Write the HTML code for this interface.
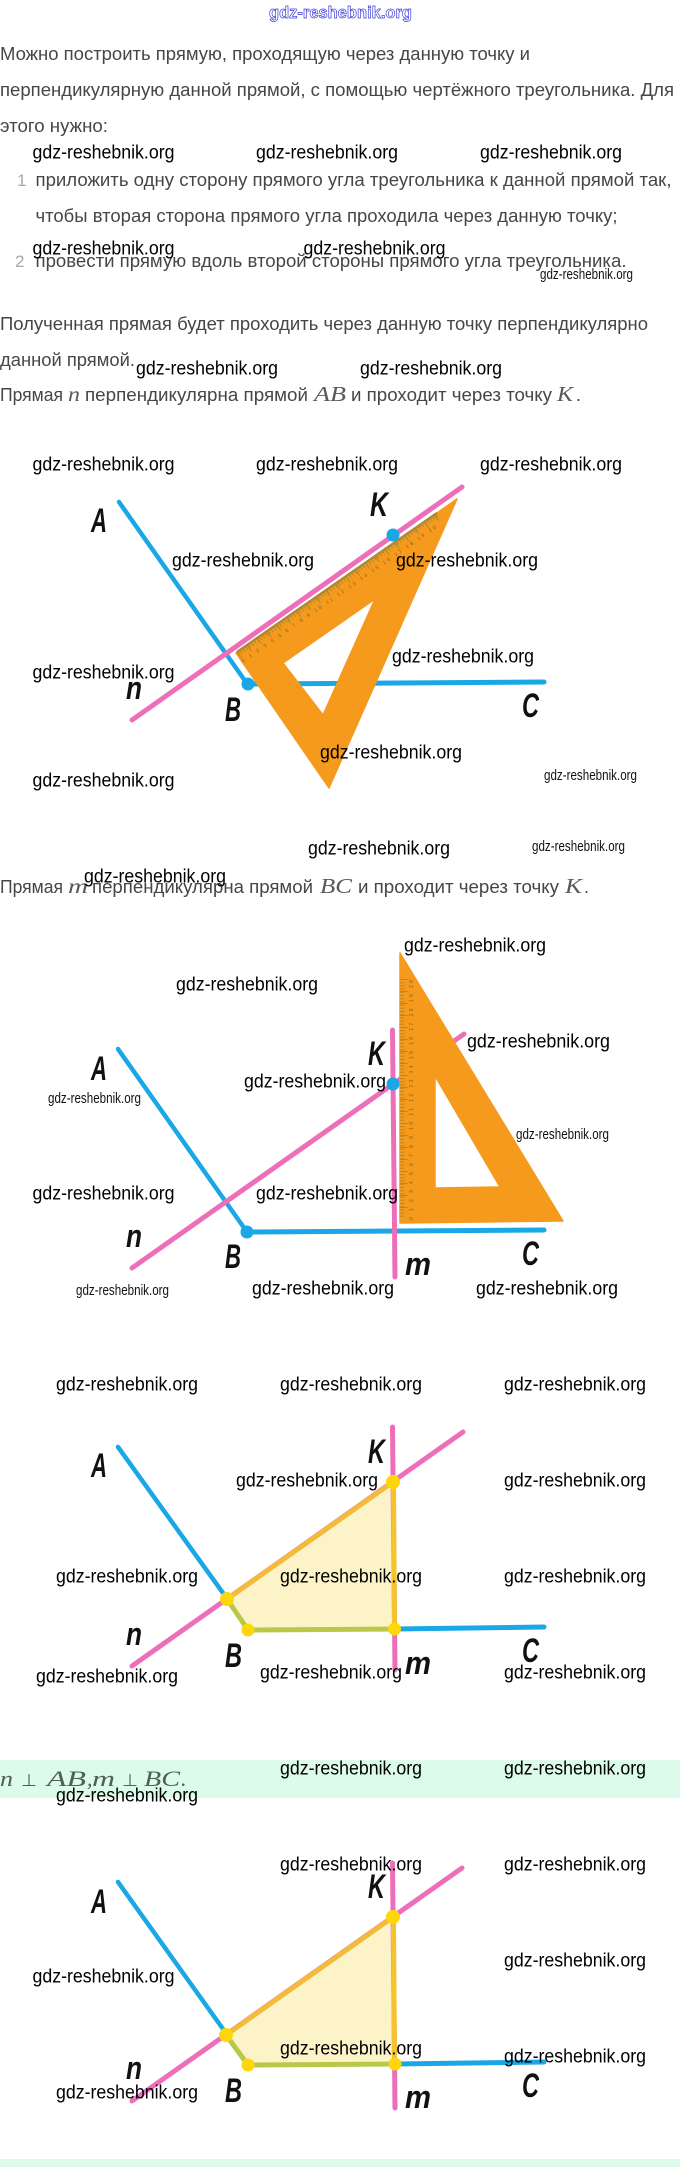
<!DOCTYPE html>
<html lang="ru">
<head>
<meta charset="utf-8">
<title>gdz-reshebnik.org</title>
<style>
html,body{margin:0;padding:0;background:#fff;width:680px;height:2167px;overflow:hidden}
svg{display:block}
.t{font-family:"Liberation Sans",sans-serif;font-size:18px;fill:#464646}
.num{font-family:"Liberation Sans",sans-serif;font-size:17px;fill:#a8a8a8}
.mi{font-family:"Liberation Serif",serif;font-style:italic;font-size:21px;fill:#5a5a5a}
.mb{font-family:"Liberation Serif",serif;font-style:italic;font-size:22px;fill:#4f6056}
.mp{font-family:"DejaVu Sans",sans-serif;font-size:17px;fill:#4f6056}
.w{font-family:"Liberation Sans",sans-serif;font-size:19px;fill:#000;transform:translateY(1.5px)}
.s{font-family:"Liberation Sans",sans-serif;font-size:15px;fill:#111}
.h{font-family:"Liberation Sans",sans-serif;font-weight:bold;font-size:17px;fill:#fff;stroke:#3a3ad8;stroke-width:.7}
.l{font-family:"Liberation Sans",sans-serif;font-style:italic;font-weight:bold;font-size:34px;fill:#111}
.lc{font-family:"Liberation Sans",sans-serif;font-style:italic;font-weight:bold;font-size:32px;fill:#111}
.r{font-family:"Liberation Sans",sans-serif;font-size:5px;fill:#85621a}
.blue{stroke:#1aa7e6;fill:none;stroke-linecap:round}
.pink{stroke:#ee6fb9;fill:none;stroke-linecap:round}
</style>
</head>
<body>
<svg xmlns="http://www.w3.org/2000/svg" width="680" height="2167" viewBox="0 0 680 2167">
<rect width="680" height="2167" fill="#fff"/>
<rect x="0" y="1760" width="680" height="38" fill="#dcfbe9"/>
<rect x="0" y="2159" width="680" height="8" fill="#dcfbe9"/>

<!-- top text -->
<text class="h" x="269" y="18" textLength="143" lengthAdjust="spacingAndGlyphs">gdz-reshebnik.org</text>
<text class="t" x="0" y="60" textLength="530" lengthAdjust="spacingAndGlyphs">Можно построить прямую, проходящую через данную точку и</text>
<text class="t" x="0" y="96" textLength="674" lengthAdjust="spacingAndGlyphs">перпендикулярную данной прямой, с помощью чертёжного треугольника. Для</text>
<text class="t" x="0" y="132" textLength="108" lengthAdjust="spacingAndGlyphs">этого нужно:</text>
<text class="num" x="17" y="186">1</text>
<text class="t" x="35.5" y="186" textLength="636" lengthAdjust="spacingAndGlyphs">приложить одну сторону прямого угла треугольника к данной прямой так,</text>
<text class="t" x="35.5" y="222" textLength="582" lengthAdjust="spacingAndGlyphs">чтобы вторая сторона прямого угла проходила через данную точку;</text>
<text class="num" x="15" y="267">2</text>
<text class="t" x="35.5" y="267" textLength="591" lengthAdjust="spacingAndGlyphs">провести прямую вдоль второй стороны прямого угла треугольника.</text>
<text class="t" x="0" y="330" textLength="648" lengthAdjust="spacingAndGlyphs">Полученная прямая будет проходить через данную точку перпендикулярно</text>
<text class="t" x="0" y="366" textLength="135" lengthAdjust="spacingAndGlyphs">данной прямой.</text>

<text class="t" x="0" y="401" textLength="63" lengthAdjust="spacingAndGlyphs">Прямая</text>
<text class="mi" x="68" y="401" textLength="12" lengthAdjust="spacingAndGlyphs">n</text>
<text class="t" x="85" y="401" textLength="223" lengthAdjust="spacingAndGlyphs">перпендикулярна прямой</text>
<text class="mi" x="314" y="401" textLength="32" lengthAdjust="spacingAndGlyphs">AB</text>
<text class="t" x="351" y="401" textLength="201" lengthAdjust="spacingAndGlyphs">и проходит через точку</text>
<text class="mi" x="557" y="401" textLength="16" lengthAdjust="spacingAndGlyphs">K</text>
<text class="t" x="576" y="401">.</text>

<!-- diagram 1 -->
<line class="blue" stroke-width="4.5" x1="119" y1="502" x2="248" y2="685"/>
<line class="blue" stroke-width="5" x1="248" y1="684" x2="544" y2="682"/>
<circle cx="248" cy="684" r="6.5" fill="#1aa7e6"/>
<path d="M236 653 L457 499 L329 788 Z M283 663 L323 715 L375 599 Z" fill="#f59a1c" fill-rule="evenodd" stroke="#f59a1c" stroke-width="1.5" stroke-linejoin="round"/>
<line x1="237" y1="652" x2="437" y2="513" stroke="#ad8a33" stroke-width="2.5"/>
<line x1="238" y1="654" x2="437" y2="515" stroke="#b08a30" stroke-width="4.5" stroke-dasharray="1 2.4"/>
<line x1="239" y1="655" x2="438" y2="516" stroke="#a98a30" stroke-width="8" stroke-dasharray="1 11"/>
<text class="r" transform="translate(243,663) rotate(-34.9)" textLength="236" lengthAdjust="spacing">0 1 2 3 4 5 6 7 8 9 10 11 12 13 14 15 16 17 18 19 20</text>
<line class="pink" stroke-width="5" x1="132" y1="720" x2="462" y2="487"/>
<circle cx="393" cy="535" r="6.5" fill="#1aa7e6"/>
<text class="l" x="91" y="532" textLength="16" lengthAdjust="spacingAndGlyphs">A</text>
<text class="l" x="370" y="516" textLength="18" lengthAdjust="spacingAndGlyphs">K</text>
<text class="lc" x="126" y="699" textLength="16" lengthAdjust="spacingAndGlyphs">n</text>
<text class="l" x="225" y="721" textLength="16" lengthAdjust="spacingAndGlyphs">B</text>
<text class="l" x="522" y="717" textLength="17" lengthAdjust="spacingAndGlyphs">C</text>

<text class="t" x="0" y="893" textLength="63" lengthAdjust="spacingAndGlyphs">Прямая</text>
<text class="mi" x="68" y="893" textLength="20" lengthAdjust="spacingAndGlyphs">m</text>
<text class="t" x="92" y="893" textLength="221" lengthAdjust="spacingAndGlyphs">перпендикулярна прямой</text>
<text class="mi" x="320" y="893" textLength="32" lengthAdjust="spacingAndGlyphs">BC</text>
<text class="t" x="358" y="893" textLength="201" lengthAdjust="spacingAndGlyphs">и проходит через точку</text>
<text class="mi" x="565" y="893" textLength="17" lengthAdjust="spacingAndGlyphs">K</text>
<text class="t" x="584" y="893">.</text>

<!-- diagram 2 -->
<line class="blue" stroke-width="4.5" x1="118" y1="1049" x2="247" y2="1232"/>
<line class="blue" stroke-width="5" x1="247" y1="1232" x2="544" y2="1230"/>
<line class="pink" stroke-width="5" x1="132" y1="1268" x2="464" y2="1034"/>
<path d="M400 1223 L400 953 L563 1221 Z M435 1076 L435 1188 L500 1187 Z" fill="#f59a1c" fill-rule="evenodd" stroke="#f59a1c" stroke-width="1.5" stroke-linejoin="round"/>
<line x1="402" y1="979" x2="402" y2="1218" stroke="#b08a30" stroke-width="4.5" stroke-dasharray="1 2.2"/>
<line x1="403.5" y1="979" x2="403.5" y2="1218" stroke="#a98a30" stroke-width="8" stroke-dasharray="1 11"/>
<text class="r" transform="translate(413,1220) rotate(-90)" textLength="240" lengthAdjust="spacing">0 1 2 3 4 5 6 7 8 9 10 11 12 13 14 15 16 17 18 19 20</text>
<line class="pink" stroke-width="5" x1="392.5" y1="1030" x2="395" y2="1277"/>
<circle cx="393" cy="1084" r="6.5" fill="#1aa7e6"/>
<circle cx="247" cy="1232" r="6.5" fill="#1aa7e6"/>
<text class="l" x="91" y="1080" textLength="16" lengthAdjust="spacingAndGlyphs">A</text>
<text class="l" x="368" y="1065" textLength="17" lengthAdjust="spacingAndGlyphs">K</text>
<text class="lc" x="126" y="1247" textLength="16" lengthAdjust="spacingAndGlyphs">n</text>
<text class="l" x="225" y="1268" textLength="16" lengthAdjust="spacingAndGlyphs">B</text>
<text class="l" x="522" y="1265" textLength="17" lengthAdjust="spacingAndGlyphs">C</text>
<text class="lc" x="405" y="1275" textLength="26" lengthAdjust="spacingAndGlyphs">m</text>

<!-- diagram 3 -->
<path d="M227 1599 L393 1482 L394 1629 L248 1630 Z" fill="#fdf3c8"/>
<line class="blue" stroke-width="4.5" x1="118" y1="1447" x2="223" y2="1593"/>
<line class="blue" stroke-width="5" x1="395" y1="1629" x2="544" y2="1627"/>
<line class="pink" stroke-width="5" x1="132" y1="1666" x2="463" y2="1432"/>
<line class="pink" stroke-width="5" x1="392.5" y1="1427" x2="395" y2="1670"/>
<line stroke="#f2bc3a" stroke-width="5" x1="227" y1="1599" x2="393" y2="1482"/>
<line stroke="#f5c32c" stroke-width="5" x1="393.5" y1="1482" x2="394.5" y2="1629"/>
<line stroke="#bac84a" stroke-width="5" x1="227" y1="1599" x2="248" y2="1630"/>
<line stroke="#bac84a" stroke-width="5" x1="248" y1="1630" x2="394" y2="1629"/>
<g fill="#ffd60a"><circle cx="393" cy="1482" r="7"/><circle cx="227" cy="1599" r="7"/><circle cx="248" cy="1630" r="6.5"/><circle cx="394.5" cy="1629" r="6.5"/></g>
<text class="l" x="91" y="1477" textLength="16" lengthAdjust="spacingAndGlyphs">A</text>
<text class="l" x="368" y="1463" textLength="17" lengthAdjust="spacingAndGlyphs">K</text>
<text class="lc" x="126" y="1645" textLength="16" lengthAdjust="spacingAndGlyphs">n</text>
<text class="l" x="225" y="1667" textLength="17" lengthAdjust="spacingAndGlyphs">B</text>
<text class="l" x="522" y="1662" textLength="17" lengthAdjust="spacingAndGlyphs">C</text>
<text class="lc" x="405" y="1674" textLength="26" lengthAdjust="spacingAndGlyphs">m</text>

<text class="mb" x="0" y="1786" textLength="13" lengthAdjust="spacingAndGlyphs">n</text>
<text class="mp" x="21" y="1786" textLength="16" lengthAdjust="spacingAndGlyphs">⊥</text>
<text class="mb" x="47" y="1786" textLength="39" lengthAdjust="spacingAndGlyphs">AB</text>
<text class="mb" x="87" y="1786">,</text>
<text class="mb" x="92" y="1786" textLength="23" lengthAdjust="spacingAndGlyphs">m</text>
<text class="mp" x="122" y="1786" textLength="16" lengthAdjust="spacingAndGlyphs">⊥</text>
<text class="mb" x="144" y="1786" textLength="36" lengthAdjust="spacingAndGlyphs">BC</text>
<text class="mb" x="181" y="1786">.</text>

<!-- diagram 4 -->
<path d="M226 2035 L393 1917 L395 2064 L248 2065 Z" fill="#fdf3c8"/>
<line class="blue" stroke-width="4.5" x1="118" y1="1882" x2="223" y2="2029"/>
<line class="blue" stroke-width="5" x1="395" y1="2064" x2="544" y2="2062"/>
<line class="pink" stroke-width="5" x1="132" y1="2101" x2="462" y2="1868"/>
<line class="pink" stroke-width="5" x1="392.5" y1="1863" x2="395" y2="2108"/>
<line stroke="#f2bc3a" stroke-width="5" x1="226" y1="2035" x2="393" y2="1917"/>
<line stroke="#f5c32c" stroke-width="5" x1="393.5" y1="1917" x2="394.5" y2="2064"/>
<line stroke="#bac84a" stroke-width="5" x1="226" y1="2035" x2="248" y2="2065"/>
<line stroke="#bac84a" stroke-width="5" x1="248" y1="2065" x2="395" y2="2064"/>
<g fill="#ffd60a"><circle cx="393" cy="1917" r="7"/><circle cx="226" cy="2035" r="7"/><circle cx="248" cy="2065" r="6.5"/><circle cx="395" cy="2064" r="6.5"/></g>
<text class="l" x="91" y="1913" textLength="16" lengthAdjust="spacingAndGlyphs">A</text>
<text class="l" x="368" y="1898" textLength="17" lengthAdjust="spacingAndGlyphs">K</text>
<text class="lc" x="126" y="2079" textLength="16" lengthAdjust="spacingAndGlyphs">n</text>
<text class="l" x="225" y="2102" textLength="17" lengthAdjust="spacingAndGlyphs">B</text>
<text class="l" x="522" y="2097" textLength="17" lengthAdjust="spacingAndGlyphs">C</text>
<text class="lc" x="405" y="2108" textLength="26" lengthAdjust="spacingAndGlyphs">m</text>

<!-- watermarks -->
<g>
<text class="w" x="32.5" y="157" textLength="142" lengthAdjust="spacingAndGlyphs">gdz-reshebnik.org</text>
<text class="w" x="256" y="157" textLength="142" lengthAdjust="spacingAndGlyphs">gdz-reshebnik.org</text>
<text class="w" x="480" y="157" textLength="142" lengthAdjust="spacingAndGlyphs">gdz-reshebnik.org</text>
<text class="w" x="32.5" y="253" textLength="142" lengthAdjust="spacingAndGlyphs">gdz-reshebnik.org</text>
<text class="w" x="303.5" y="253" textLength="142" lengthAdjust="spacingAndGlyphs">gdz-reshebnik.org</text>
<text class="s" x="540" y="279" textLength="93" lengthAdjust="spacingAndGlyphs">gdz-reshebnik.org</text>
<text class="w" x="136" y="373" textLength="142" lengthAdjust="spacingAndGlyphs">gdz-reshebnik.org</text>
<text class="w" x="360" y="373" textLength="142" lengthAdjust="spacingAndGlyphs">gdz-reshebnik.org</text>
<text class="w" x="32.5" y="469" textLength="142" lengthAdjust="spacingAndGlyphs">gdz-reshebnik.org</text>
<text class="w" x="256" y="469" textLength="142" lengthAdjust="spacingAndGlyphs">gdz-reshebnik.org</text>
<text class="w" x="480" y="469" textLength="142" lengthAdjust="spacingAndGlyphs">gdz-reshebnik.org</text>
<text class="w" x="172" y="565" textLength="142" lengthAdjust="spacingAndGlyphs">gdz-reshebnik.org</text>
<text class="w" x="396" y="565" textLength="142" lengthAdjust="spacingAndGlyphs">gdz-reshebnik.org</text>
<text class="w" x="392" y="661" textLength="142" lengthAdjust="spacingAndGlyphs">gdz-reshebnik.org</text>
<text class="w" x="32.5" y="677" textLength="142" lengthAdjust="spacingAndGlyphs">gdz-reshebnik.org</text>
<text class="w" x="320" y="757" textLength="142" lengthAdjust="spacingAndGlyphs">gdz-reshebnik.org</text>
<text class="w" x="32.5" y="785" textLength="142" lengthAdjust="spacingAndGlyphs">gdz-reshebnik.org</text>
<text class="s" x="544" y="780" textLength="93" lengthAdjust="spacingAndGlyphs">gdz-reshebnik.org</text>
<text class="w" x="308" y="853" textLength="142" lengthAdjust="spacingAndGlyphs">gdz-reshebnik.org</text>
<text class="s" x="532" y="851" textLength="93" lengthAdjust="spacingAndGlyphs">gdz-reshebnik.org</text>
<text class="w" x="84" y="881" textLength="142" lengthAdjust="spacingAndGlyphs">gdz-reshebnik.org</text>
<text class="w" x="404" y="950" textLength="142" lengthAdjust="spacingAndGlyphs">gdz-reshebnik.org</text>
<text class="w" x="176" y="989" textLength="142" lengthAdjust="spacingAndGlyphs">gdz-reshebnik.org</text>
<text class="w" x="467" y="1046" textLength="143" lengthAdjust="spacingAndGlyphs">gdz-reshebnik.org</text>
<text class="w" x="244" y="1086" textLength="142" lengthAdjust="spacingAndGlyphs">gdz-reshebnik.org</text>
<text class="s" x="48" y="1103" textLength="93" lengthAdjust="spacingAndGlyphs">gdz-reshebnik.org</text>
<text class="s" x="516" y="1139" textLength="93" lengthAdjust="spacingAndGlyphs">gdz-reshebnik.org</text>
<text class="w" x="32.5" y="1198" textLength="142" lengthAdjust="spacingAndGlyphs">gdz-reshebnik.org</text>
<text class="w" x="256" y="1198" textLength="142" lengthAdjust="spacingAndGlyphs">gdz-reshebnik.org</text>
<text class="s" x="76" y="1295" textLength="93" lengthAdjust="spacingAndGlyphs">gdz-reshebnik.org</text>
<text class="w" x="252" y="1293" textLength="142" lengthAdjust="spacingAndGlyphs">gdz-reshebnik.org</text>
<text class="w" x="476" y="1293" textLength="142" lengthAdjust="spacingAndGlyphs">gdz-reshebnik.org</text>
<text class="w" x="56" y="1389" textLength="142" lengthAdjust="spacingAndGlyphs">gdz-reshebnik.org</text>
<text class="w" x="280" y="1389" textLength="142" lengthAdjust="spacingAndGlyphs">gdz-reshebnik.org</text>
<text class="w" x="504" y="1389" textLength="142" lengthAdjust="spacingAndGlyphs">gdz-reshebnik.org</text>
<text class="w" x="236" y="1485" textLength="142" lengthAdjust="spacingAndGlyphs">gdz-reshebnik.org</text>
<text class="w" x="504" y="1485" textLength="142" lengthAdjust="spacingAndGlyphs">gdz-reshebnik.org</text>
<text class="w" x="56" y="1581" textLength="142" lengthAdjust="spacingAndGlyphs">gdz-reshebnik.org</text>
<text class="w" x="280" y="1581" textLength="142" lengthAdjust="spacingAndGlyphs">gdz-reshebnik.org</text>
<text class="w" x="504" y="1581" textLength="142" lengthAdjust="spacingAndGlyphs">gdz-reshebnik.org</text>
<text class="w" x="36" y="1681" textLength="142" lengthAdjust="spacingAndGlyphs">gdz-reshebnik.org</text>
<text class="w" x="260" y="1677" textLength="142" lengthAdjust="spacingAndGlyphs">gdz-reshebnik.org</text>
<text class="w" x="504" y="1677" textLength="142" lengthAdjust="spacingAndGlyphs">gdz-reshebnik.org</text>
<text class="w" x="280" y="1773" textLength="142" lengthAdjust="spacingAndGlyphs">gdz-reshebnik.org</text>
<text class="w" x="504" y="1773" textLength="142" lengthAdjust="spacingAndGlyphs">gdz-reshebnik.org</text>
<text class="w" x="56" y="1800" textLength="142" lengthAdjust="spacingAndGlyphs">gdz-reshebnik.org</text>
<text class="w" x="280" y="1869" textLength="142" lengthAdjust="spacingAndGlyphs">gdz-reshebnik.org</text>
<text class="w" x="504" y="1869" textLength="142" lengthAdjust="spacingAndGlyphs">gdz-reshebnik.org</text>
<text class="w" x="504" y="1965" textLength="142" lengthAdjust="spacingAndGlyphs">gdz-reshebnik.org</text>
<text class="w" x="32.5" y="1981" textLength="142" lengthAdjust="spacingAndGlyphs">gdz-reshebnik.org</text>
<text class="w" x="280" y="2053" textLength="142" lengthAdjust="spacingAndGlyphs">gdz-reshebnik.org</text>
<text class="w" x="504" y="2061" textLength="142" lengthAdjust="spacingAndGlyphs">gdz-reshebnik.org</text>
<text class="w" x="56" y="2097" textLength="142" lengthAdjust="spacingAndGlyphs">gdz-reshebnik.org</text>
</g>
</svg>
</body>
</html>
